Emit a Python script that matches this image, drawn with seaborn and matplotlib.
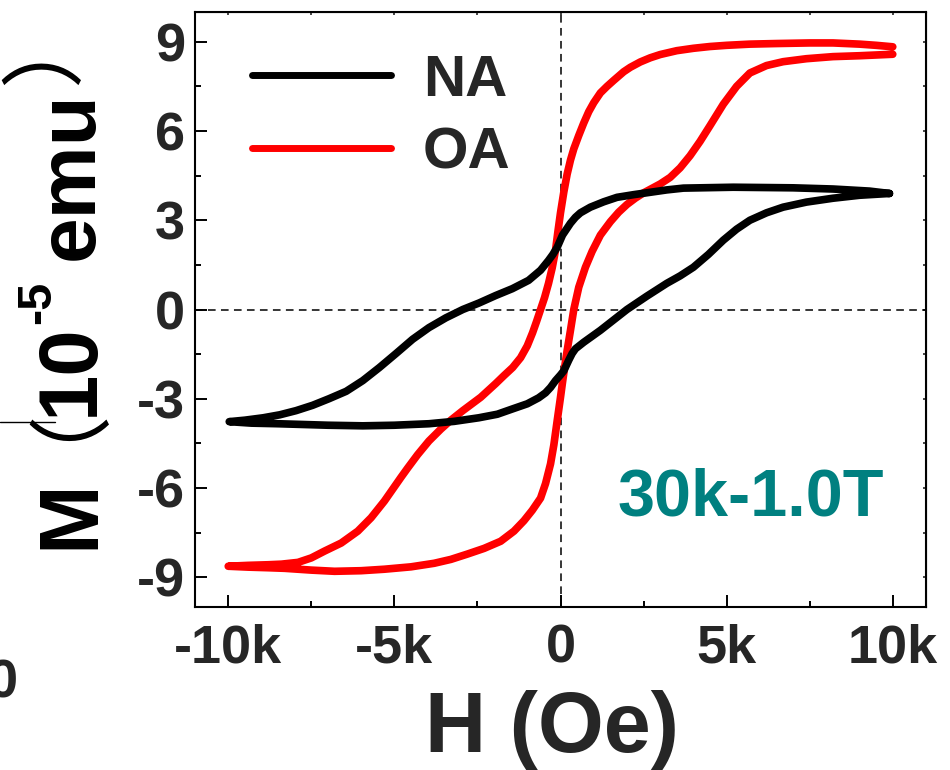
import matplotlib
matplotlib.use("Agg")
import matplotlib.pyplot as plt
import seaborn as sns
from matplotlib.ticker import MultipleLocator, FixedLocator
from matplotlib.lines import Line2D

# hysteresis loops, H in Oe, M in 1e-5 emu
# each loop: descending branch (+10k -> -10k) then ascending branch back
na_h_down = [9900, 9300, 8200, 7000, 5200, 3700, 3200, 2700, 2200, 1700, 1300, 900, 600, 450,
             300, 150, 60, -100, -230, -360, -600, -960, -1450, -1950, -2450, -2940, -3450,
             -3960, -4450, -4950, -5450, -5950, -6450, -6970, -7460, -7960, -8450, -8950,
             -9500, -9970]
na_m_down = [3.90, 3.98, 4.05, 4.09, 4.11, 4.08, 4.02, 3.94, 3.86, 3.77, 3.62, 3.44, 3.25, 3.10,
             2.90, 2.65, 2.50, 2.09, 1.85, 1.65, 1.32, 0.98, 0.70, 0.47, 0.22, 0.00, -0.28,
             -0.61, -1.00, -1.48, -1.95, -2.39, -2.75, -3.00, -3.22, -3.40, -3.54, -3.64,
             -3.72, -3.77]
na_h_up = [-9970, -9300, -8500, -7000, -5950, -5000, -3960, -3200, -2460, -1900, -1440, -1000,
           -660, -450, -300, -150, 0, 100, 250, 350, 450, 700, 950, 1200, 1600, 2000, 2600, 3200,
           3600, 4000, 4450, 4900, 5300, 5700, 6200, 6700, 7400, 8200, 9000, 9900]
na_m_up = [-3.77, -3.82, -3.84, -3.89, -3.91, -3.89, -3.84, -3.76, -3.64, -3.52, -3.34, -3.17,
           -2.97, -2.80, -2.62, -2.39, -2.20, -2.06, -1.70, -1.48, -1.32, -1.10, -0.90, -0.70,
           -0.35, 0.00, 0.45, 0.88, 1.13, 1.42, 1.85, 2.33, 2.70, 3.00, 3.25, 3.44, 3.61, 3.74,
           3.84, 3.90]

oa_h_down = [10000, 9500, 9000, 8200, 7500, 6500, 5700, 5000, 4500, 4000, 3500, 3000, 2700,
             2400, 2100, 1900, 1600, 1400, 1200, 1000, 850, 700, 550, 400, 300, 200, 100, 0,
             -80, -150, -250, -360, -480, -600, -720, -840, -1000, -1200, -1440, -1700, -1950,
             -2400, -2940, -3300, -3600, -3960, -4300, -4600, -4800, -5050, -5300, -5700,
             -6100, -6600, -7100, -7500, -7900, -8400, -8800, -9400, -10000]
oa_m_down = [8.83, 8.88, 8.92, 8.96, 8.96, 8.94, 8.92, 8.88, 8.84, 8.78, 8.70, 8.57, 8.46,
             8.32, 8.14, 7.99, 7.70, 7.50, 7.28, 6.95, 6.65, 6.27, 5.85, 5.40, 5.02, 4.55, 3.95,
             3.25, 2.60, 1.99, 1.40, 0.88, 0.40, 0.00, -0.40, -0.78, -1.22, -1.62, -1.95, -2.22,
             -2.49, -2.95, -3.40, -3.72, -4.02, -4.42, -4.88, -5.33, -5.64, -6.04, -6.44, -7.00,
             -7.45, -7.85, -8.12, -8.35, -8.50, -8.56, -8.58, -8.60, -8.63]
oa_h_up = [-10000, -9400, -8800, -8300, -7500, -6800, -6000, -5300, -4500, -3800, -3300, -2800,
           -2300, -1800, -1400, -1100, -850, -600, -450, -300, -200, -100, 0, 60, 130, 200, 300,
           400, 550, 750, 950, 1200, 1500, 1750, 2000, 2250, 2500, 2750, 3000, 3300, 3600, 3900,
           4200, 4500, 4900, 5300, 5700, 6200, 6700, 7400, 8200, 9000, 10000]
oa_m_up = [-8.63, -8.66, -8.68, -8.70, -8.76, -8.80, -8.78, -8.73, -8.65, -8.53, -8.40, -8.22,
           -8.03, -7.79, -7.45, -7.10, -6.75, -6.34, -5.85, -5.19, -4.55, -3.74, -2.95, -2.45,
           -1.90, -1.38, -0.70, 0.00, 0.75, 1.42, 1.95, 2.50, 2.95, 3.27, 3.53, 3.74, 3.92,
           4.07, 4.22, 4.44, 4.76, 5.17, 5.65, 6.18, 6.90, 7.50, 7.95, 8.20, 8.33, 8.43, 8.50,
           8.53, 8.58]

x_ticks = [-10000, -5000, 0, 5000, 10000]
x_tick_labels = ["-10k", "-5k", "0", "5k", "10k"]
y_ticks = [9, 6, 3, 0, -3, -6, -9]
y_tick_labels = ["9", "6", "3", "0", "-3", "-6", "-9"]

W, H = 950, 770


def px(x, y):
    return x / W, 1 - y / H


sns.set_style("ticks")
plt.rcParams['font.family'] = ['Liberation Sans', 'DejaVu Sans']
plt.rcParams['font.weight'] = 'bold'
plt.rcParams['axes.unicode_minus'] = False

fig = plt.figure(figsize=(9.5, 7.7), dpi=100)
ax = fig.add_axes([195 / W, 1 - 607 / H, (926 - 195) / W, (607 - 12) / H])

ax.axvline(0, color='black', lw=1.1, ls=(0, (5, 3.5)), zorder=1)
ax.axhline(0, color='black', lw=1.1, ls=(0, (5, 3.5)), zorder=1)

sns.lineplot(x=na_h_down + na_h_up, y=na_m_down + na_m_up, sort=False, estimator=None,
             color='black', lw=5.5, label='NA', ax=ax, zorder=3,
             solid_capstyle='round', solid_joinstyle='round')
sns.lineplot(x=oa_h_down + oa_h_up, y=oa_m_down + oa_m_up, sort=False, estimator=None,
             color='#ff0000', lw=5.5, label='OA', ax=ax, zorder=2,
             solid_capstyle='round', solid_joinstyle='round')

ax.set_xlim(-11000, 11000)
ax.set_ylim(-10, 10)
ax.set_xticks(x_ticks)
ax.set_xticklabels(x_tick_labels)
ax.set_yticks(y_ticks)
ax.set_yticklabels(y_tick_labels)
ax.xaxis.set_minor_locator(MultipleLocator(2500))
ax.yaxis.set_minor_locator(MultipleLocator(1.5))
ax.tick_params(which='both', direction='in', top=False, right=False, width=1.4, color='black')
ax.tick_params(which='major', length=8.5, labelsize=39)
ax.tick_params(which='minor', length=4.5)
ax.tick_params(axis='x', pad=12)
ax.tick_params(axis='y', pad=7)
for s in ax.spines.values():
    s.set_linewidth(1.5)
    s.set_color('black')

# short ticks on top and right frame
top = ax.secondary_xaxis('top')
top.xaxis.set_major_locator(FixedLocator(x_ticks))
top.xaxis.set_minor_locator(MultipleLocator(2500))
top.tick_params(which='both', direction='in', length=2.5, width=1.2, labeltop=False)
right = ax.secondary_yaxis('right')
right.yaxis.set_major_locator(FixedLocator(y_ticks))
right.yaxis.set_minor_locator(MultipleLocator(1.5))
right.tick_params(which='both', direction='in', length=2.5, width=1.2, labelright=False)

ax.set_xlabel("H (Oe)", fontsize=61, fontweight='bold')
ax.xaxis.set_label_coords(0.488, -0.140)
ax.set_ylabel("")

# y label pieces, rotated
yl = dict(rotation=90, rotation_mode='anchor', ha='left', va='baseline', color='black')
fig.text(*px(93, 549), "M", fontsize=60, fontweight='bold', **yl)
fig.text(*px(93, 416), "10", fontsize=60, fontweight='bold', **yl)
fig.text(*px(50, 324), "-5", fontsize=35, fontweight='bold', **yl)
fig.text(*px(93, 260), "emu", fontsize=59, fontweight='bold', **yl)
# full-width brackets; anchors offset for the side bearing of the CJK glyphs
pr = dict(rotation=90, ha='center', va='center', fontsize=60, family=['Noto Sans CJK SC'],
          fontweight='normal', color='black')
fig.text(*px(20, 399), "（", **pr)
fig.text(*px(46, 43), "）", **pr)

ax.text(5740, -6.94, "30k-1.0T", color='#008080', fontsize=48, fontweight='bold',
        ha='center', va='baseline')

leg = ax.legend(loc='upper left', bbox_to_anchor=(0.078, 0.930), frameon=False,
                handlelength=2.38, handletextpad=0.55, labelspacing=0.33,
                borderpad=0, borderaxespad=0, prop={'weight': 'bold', 'size': 42})
for line in leg.get_lines():
    line.set_linewidth(5)
    line.set_solid_capstyle('round')

# fragments of the neighbouring panel at the left edge
fig.text(*px(-12, 698), "0", fontsize=39, fontweight='bold', ha='left', va='baseline')
fig.add_artist(Line2D([0, 55 / W], [1 - 422 / H] * 2, color='black', lw=1.0))

fig.savefig("out.png", dpi=100)
